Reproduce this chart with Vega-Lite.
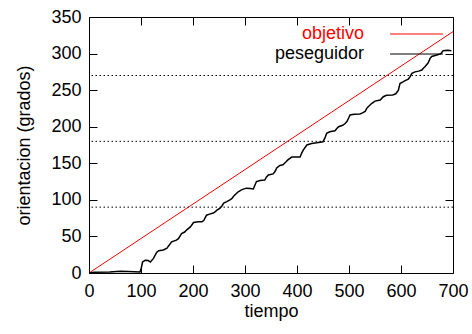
{
  "$schema": "https://vega.github.io/schema/vega-lite/v6.json",
  "width": 364,
  "height": 256,
  "autosize": "none",
  "padding": {"left": 89, "top": 17, "right": 19, "bottom": 61},
  "background": "white",
  "config": {
    "view": {"stroke": "black", "strokeWidth": 1},
    "font": "Liberation Sans",
    "axis": {
      "domain": false, "grid": false, "tickColor": "black", "tickSize": -8, "tickWidth": 1,
      "labelFont": "Liberation Sans", "labelFontSize": 18, "labelColor": "black", "labelFlush": false, "labelOverlap": false,
      "titleFont": "Liberation Sans", "titleFontSize": 18, "titleFontWeight": "normal", "titleColor": "black"
    }
  },
  "datasets": {
    "refs": [{"y": 90}, {"y": 180}, {"y": 270}],
    "lines": [
      {"t": 0, "y": 0, "series": "objetivo"},
      {"t": 700, "y": 330, "series": "objetivo"},
      {"t": 0, "y": 0, "series": "peseguidor"},
      {"t": 10, "y": 1, "series": "peseguidor"},
      {"t": 40, "y": 1.5, "series": "peseguidor"},
      {"t": 60, "y": 2.5, "series": "peseguidor"},
      {"t": 75, "y": 2, "series": "peseguidor"},
      {"t": 98, "y": 1.5, "series": "peseguidor"},
      {"t": 100, "y": 5, "series": "peseguidor"},
      {"t": 103, "y": 15, "series": "peseguidor"},
      {"t": 108, "y": 17.5, "series": "peseguidor"},
      {"t": 114, "y": 17, "series": "peseguidor"},
      {"t": 118, "y": 15, "series": "peseguidor"},
      {"t": 124, "y": 20, "series": "peseguidor"},
      {"t": 130, "y": 28, "series": "peseguidor"},
      {"t": 134, "y": 30.5, "series": "peseguidor"},
      {"t": 143, "y": 31.5, "series": "peseguidor"},
      {"t": 150, "y": 34, "series": "peseguidor"},
      {"t": 153, "y": 37, "series": "peseguidor"},
      {"t": 159, "y": 42.5, "series": "peseguidor"},
      {"t": 168, "y": 45, "series": "peseguidor"},
      {"t": 172, "y": 47, "series": "peseguidor"},
      {"t": 178, "y": 54, "series": "peseguidor"},
      {"t": 184, "y": 56, "series": "peseguidor"},
      {"t": 188, "y": 59, "series": "peseguidor"},
      {"t": 195, "y": 63, "series": "peseguidor"},
      {"t": 198, "y": 66, "series": "peseguidor"},
      {"t": 201, "y": 69, "series": "peseguidor"},
      {"t": 210, "y": 70, "series": "peseguidor"},
      {"t": 217, "y": 70, "series": "peseguidor"},
      {"t": 221, "y": 72, "series": "peseguidor"},
      {"t": 223, "y": 75, "series": "peseguidor"},
      {"t": 226, "y": 79, "series": "peseguidor"},
      {"t": 232, "y": 80.5, "series": "peseguidor"},
      {"t": 239, "y": 82, "series": "peseguidor"},
      {"t": 243, "y": 84, "series": "peseguidor"},
      {"t": 246, "y": 86, "series": "peseguidor"},
      {"t": 252, "y": 88.5, "series": "peseguidor"},
      {"t": 256, "y": 92, "series": "peseguidor"},
      {"t": 259, "y": 95.5, "series": "peseguidor"},
      {"t": 265, "y": 97.5, "series": "peseguidor"},
      {"t": 271, "y": 100, "series": "peseguidor"},
      {"t": 275, "y": 102, "series": "peseguidor"},
      {"t": 278, "y": 105, "series": "peseguidor"},
      {"t": 284, "y": 109, "series": "peseguidor"},
      {"t": 287, "y": 111, "series": "peseguidor"},
      {"t": 294, "y": 114, "series": "peseguidor"},
      {"t": 303, "y": 116, "series": "peseguidor"},
      {"t": 310, "y": 115.5, "series": "peseguidor"},
      {"t": 316, "y": 115, "series": "peseguidor"},
      {"t": 319, "y": 120, "series": "peseguidor"},
      {"t": 322, "y": 125, "series": "peseguidor"},
      {"t": 329, "y": 126.5, "series": "peseguidor"},
      {"t": 338, "y": 127, "series": "peseguidor"},
      {"t": 341, "y": 131, "series": "peseguidor"},
      {"t": 345, "y": 134, "series": "peseguidor"},
      {"t": 354, "y": 135.5, "series": "peseguidor"},
      {"t": 358, "y": 139, "series": "peseguidor"},
      {"t": 361, "y": 143.5, "series": "peseguidor"},
      {"t": 367, "y": 147, "series": "peseguidor"},
      {"t": 373, "y": 148, "series": "peseguidor"},
      {"t": 379, "y": 152, "series": "peseguidor"},
      {"t": 383, "y": 155, "series": "peseguidor"},
      {"t": 390, "y": 158.5, "series": "peseguidor"},
      {"t": 397, "y": 158.5, "series": "peseguidor"},
      {"t": 406, "y": 158.5, "series": "peseguidor"},
      {"t": 409, "y": 164, "series": "peseguidor"},
      {"t": 412, "y": 168, "series": "peseguidor"},
      {"t": 419, "y": 175, "series": "peseguidor"},
      {"t": 428, "y": 177, "series": "peseguidor"},
      {"t": 438, "y": 178, "series": "peseguidor"},
      {"t": 450, "y": 179.5, "series": "peseguidor"},
      {"t": 454, "y": 185, "series": "peseguidor"},
      {"t": 457, "y": 191, "series": "peseguidor"},
      {"t": 463, "y": 193, "series": "peseguidor"},
      {"t": 473, "y": 194.5, "series": "peseguidor"},
      {"t": 477, "y": 198, "series": "peseguidor"},
      {"t": 480, "y": 200, "series": "peseguidor"},
      {"t": 488, "y": 202, "series": "peseguidor"},
      {"t": 492, "y": 204, "series": "peseguidor"},
      {"t": 496, "y": 207, "series": "peseguidor"},
      {"t": 500, "y": 213, "series": "peseguidor"},
      {"t": 502, "y": 216, "series": "peseguidor"},
      {"t": 510, "y": 217, "series": "peseguidor"},
      {"t": 521, "y": 217.5, "series": "peseguidor"},
      {"t": 526, "y": 219, "series": "peseguidor"},
      {"t": 531, "y": 221, "series": "peseguidor"},
      {"t": 535, "y": 226, "series": "peseguidor"},
      {"t": 538, "y": 228, "series": "peseguidor"},
      {"t": 544, "y": 232, "series": "peseguidor"},
      {"t": 550, "y": 235, "series": "peseguidor"},
      {"t": 560, "y": 236.5, "series": "peseguidor"},
      {"t": 566, "y": 241, "series": "peseguidor"},
      {"t": 572, "y": 243, "series": "peseguidor"},
      {"t": 584, "y": 243.5, "series": "peseguidor"},
      {"t": 590, "y": 245, "series": "peseguidor"},
      {"t": 595, "y": 250, "series": "peseguidor"},
      {"t": 598, "y": 259, "series": "peseguidor"},
      {"t": 603, "y": 261, "series": "peseguidor"},
      {"t": 608, "y": 263, "series": "peseguidor"},
      {"t": 614, "y": 265, "series": "peseguidor"},
      {"t": 617, "y": 268, "series": "peseguidor"},
      {"t": 621, "y": 273, "series": "peseguidor"},
      {"t": 627, "y": 275, "series": "peseguidor"},
      {"t": 634, "y": 276, "series": "peseguidor"},
      {"t": 640, "y": 277.5, "series": "peseguidor"},
      {"t": 643, "y": 280, "series": "peseguidor"},
      {"t": 646, "y": 282, "series": "peseguidor"},
      {"t": 652, "y": 287, "series": "peseguidor"},
      {"t": 656, "y": 293.5, "series": "peseguidor"},
      {"t": 659, "y": 296, "series": "peseguidor"},
      {"t": 669, "y": 298, "series": "peseguidor"},
      {"t": 676, "y": 299.5, "series": "peseguidor"},
      {"t": 679, "y": 302, "series": "peseguidor"},
      {"t": 681, "y": 304, "series": "peseguidor"},
      {"t": 690, "y": 304.5, "series": "peseguidor"},
      {"t": 697, "y": 304, "series": "peseguidor"}
    ]
  },
  "layer": [
    {
      "data": {"name": "refs"},
      "mark": {"type": "rule", "stroke": "black", "strokeWidth": 1, "strokeDash": [1.5, 2.5]},
      "encoding": {
        "y": {"field": "y", "type": "quantitative", "scale": {"domain": [0, 350], "nice": false}, "axis": null}
      }
    },
    {
      "data": {"name": "lines"},
      "transform": [{"filter": "datum.series === 'objetivo'"}],
      "mark": {"type": "line", "strokeWidth": 1},
      "encoding": {
        "x": {"field": "t", "type": "quantitative", "scale": {"domain": [0, 700], "nice": false},
              "axis": {"orient": "bottom", "values": [0, 100, 200, 300, 400, 500, 600, 700], "title": "tiempo", "labelPadding": 17, "titlePadding": 2}},
        "y": {"field": "y", "type": "quantitative", "scale": {"domain": [0, 350], "nice": false},
              "axis": {"orient": "left", "values": [0, 50, 100, 150, 200, 250, 300, 350], "title": "orientacion (grados)", "labelPadding": 16, "titlePadding": 17}},
        "color": {
          "field": "series", "type": "nominal",
          "scale": {"domain": ["objetivo", "peseguidor"], "range": ["#ff0000", "#000000"]},
          "legend": {
            "orient": "none", "legendX": 288, "legendY": 8, "title": null, "padding": 0,
            "symbolType": "M-10,0H10", "symbolSize": 28, "symbolOffset": 30.5, "symbolStrokeWidth": 1.2,
            "labelFont": "Liberation Sans", "labelFontSize": 18, "rowPadding": 2,
            "encode": {
              "labels": {"update": {"x": {"value": -13}, "align": {"value": "right"},
                "fill": {"signal": "datum.value === 'objetivo' ? '#ff0000' : '#000000'"}}}
            }
          }
        }
      }
    },
    {
      "data": {"name": "lines"},
      "transform": [{"filter": "datum.series === 'peseguidor'"}],
      "mark": {"type": "line", "strokeWidth": 1.5},
      "encoding": {
        "x": {"field": "t", "type": "quantitative", "scale": {"domain": [0, 700], "nice": false},
              "axis": {"orient": "top", "values": [0, 100, 200, 300, 400, 500, 600, 700], "labels": false, "title": null}},
        "y": {"field": "y", "type": "quantitative", "scale": {"domain": [0, 350], "nice": false},
              "axis": {"orient": "right", "values": [0, 50, 100, 150, 200, 250, 300, 350], "labels": false, "title": null}},
        "color": {"field": "series", "type": "nominal"}
      }
    }
  ],
  "resolve": {"axis": {"x": "independent", "y": "independent"}}
}
